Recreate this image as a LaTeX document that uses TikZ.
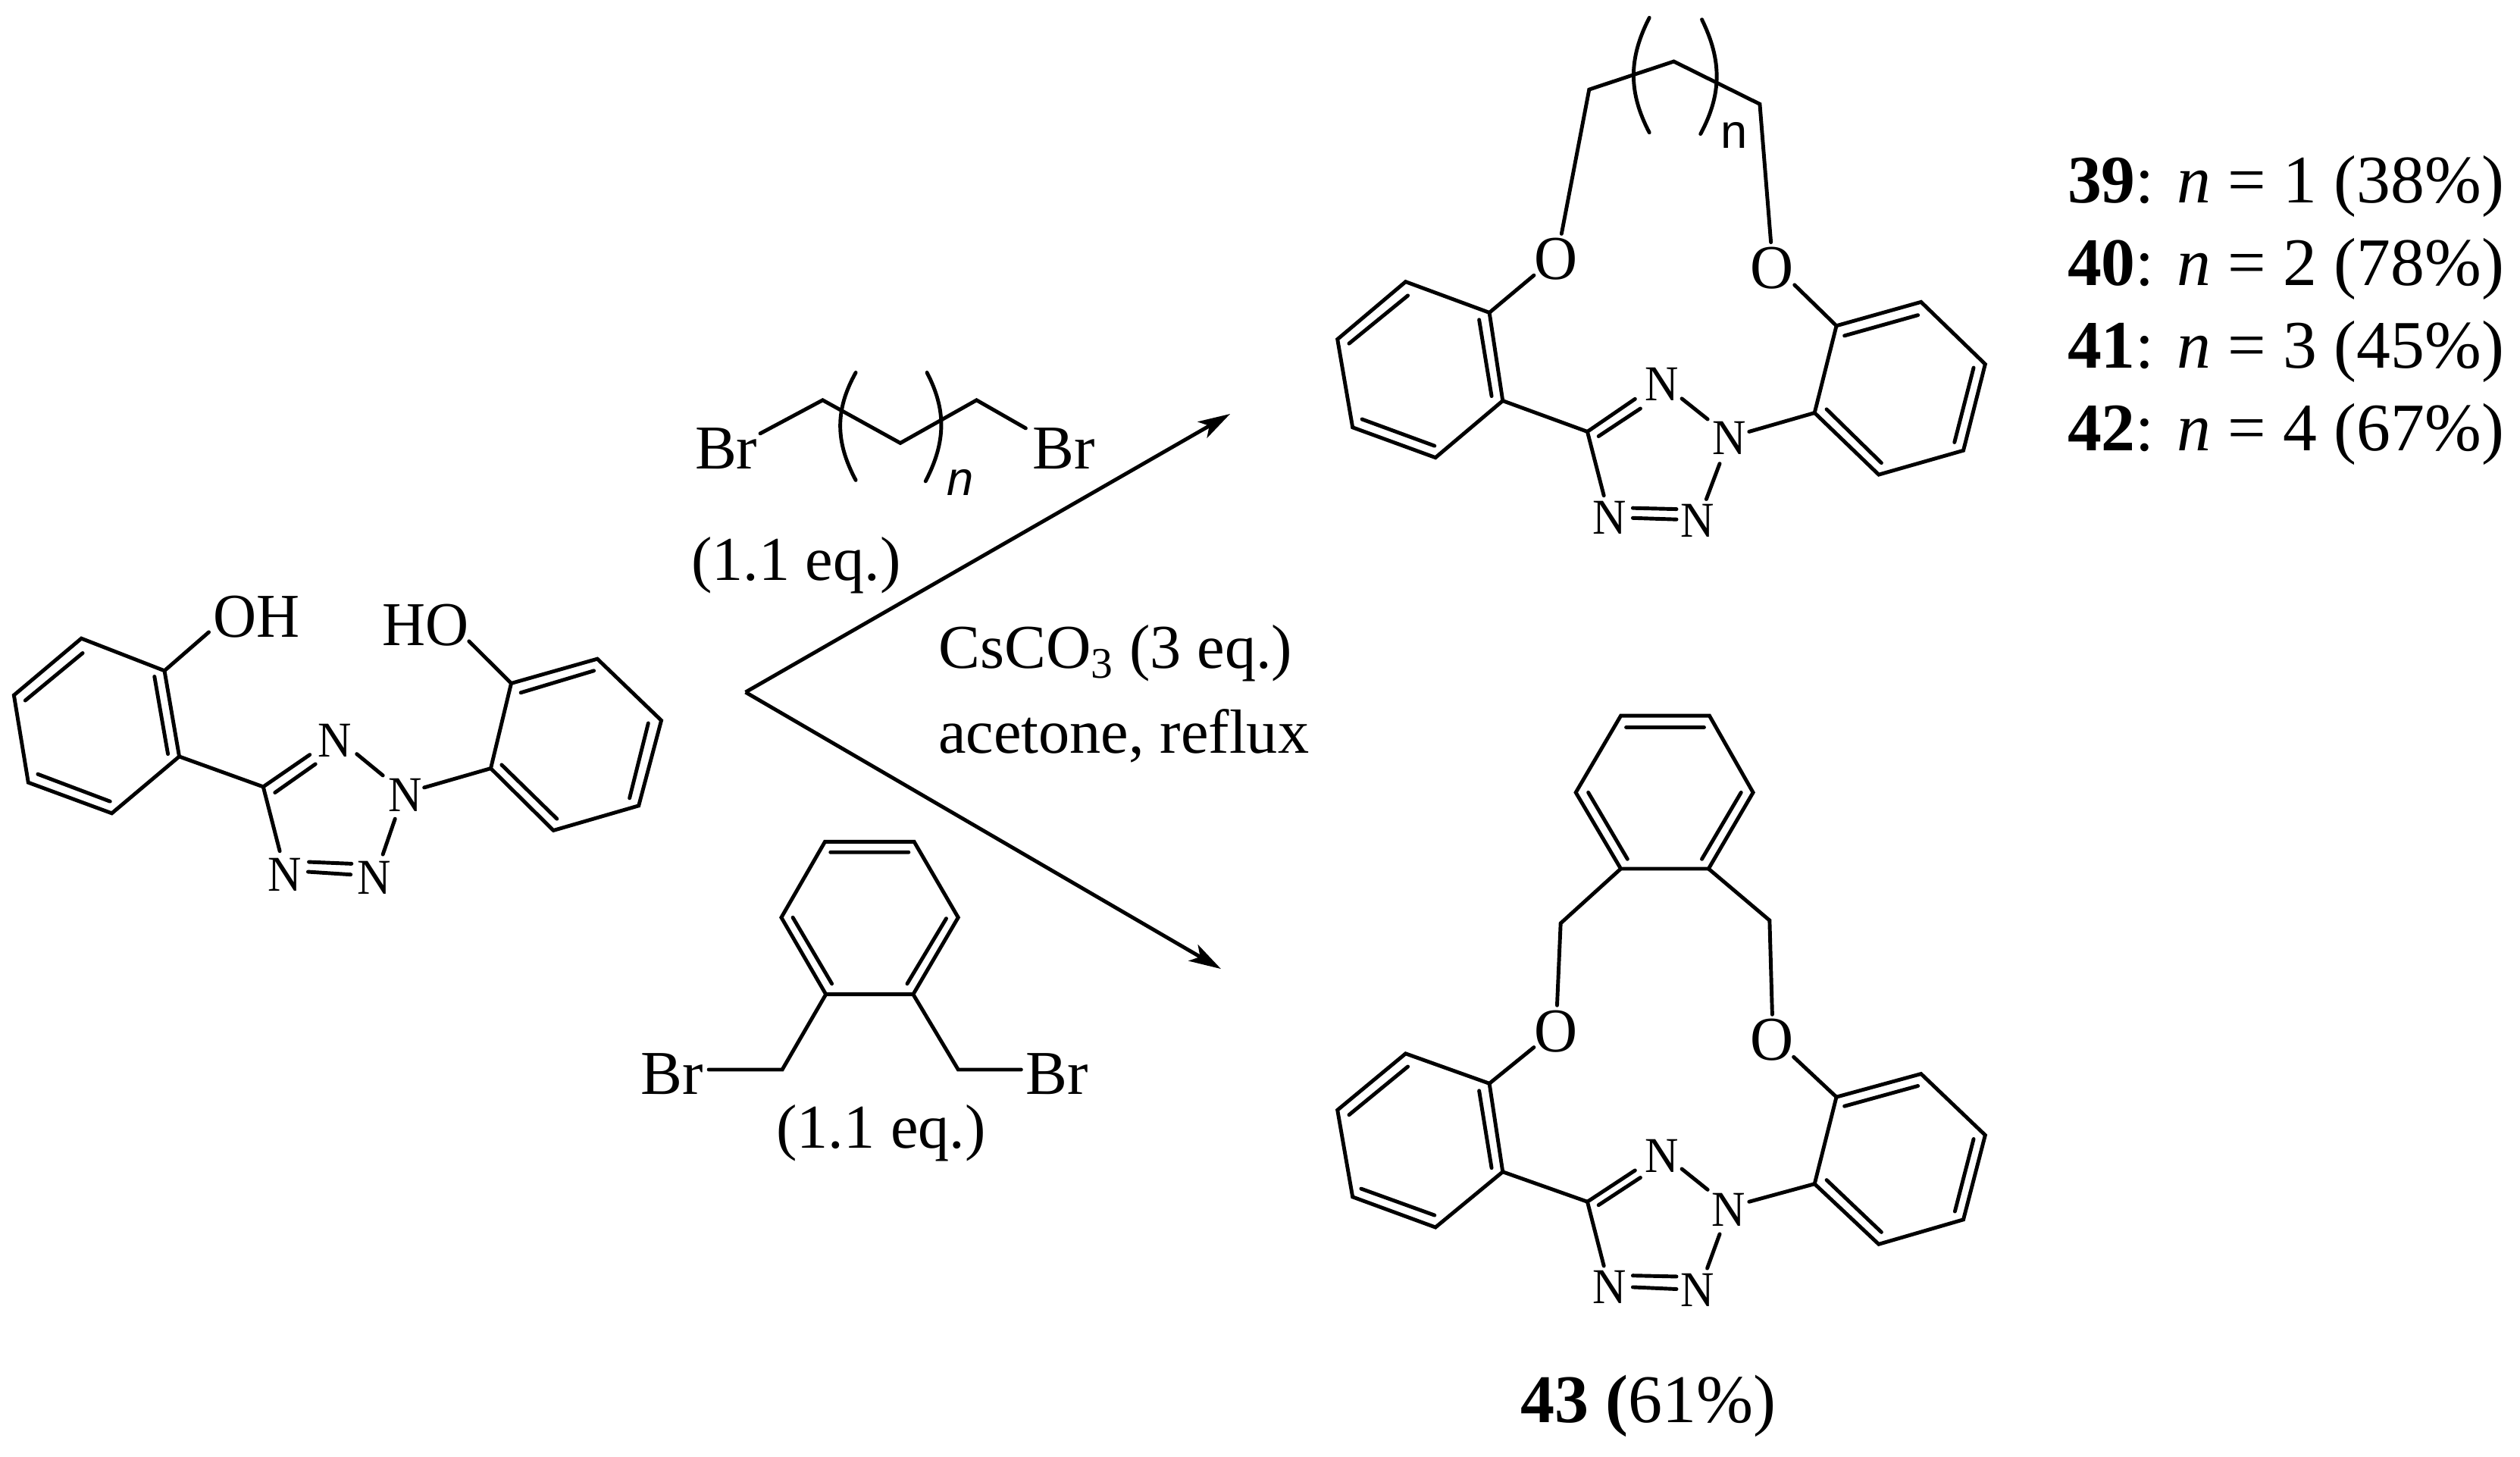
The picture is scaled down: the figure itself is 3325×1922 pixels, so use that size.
\documentclass[tikz,border=0pt]{standalone}
\usepackage{fontspec}
\setmainfont{Liberation Serif}
\newfontfamily\sansn{Liberation Sans}
\usetikzlibrary{arrows.meta}
\newcommand{\txtlarge}[1]{\fontsize{23.4}{23.4}\selectfont #1}
\newcommand{\molN}[1]{\scalebox{0.93}[1]{\fontsize{18.8}{18.8}\selectfont #1}}
\newcommand{\molO}[1]{\scalebox{0.96}[1]{\fontsize{23.4}{23.4}\selectfont #1}}
\newcommand{\listfont}{\fontsize{25.5}{25.5}\selectfont}
\tikzset{
  bond/.style={line width=1.4pt,line cap=round,line join=miter},
  atom/.style={inner sep=0pt,outer sep=0pt,text=black},
  rxnarrow/.style={line width=1.4pt,-{Stealth[length=12pt,width=7pt,inset=3pt]}}
}
\begin{document}
\begin{tikzpicture}[x=0.01cm,y=-0.01cm]
\useasboundingbox (0,0) rectangle (3325,1922);

% --- starting material
\begin{scope}[shift={(0,760)},x=0.00574cm,y=-0.00333cm]
\node[atom] (oh) at (590,162) {\molO{OH}};
\node[atom] (ho) at (978,195) {\molO{HO}};
\node[atom] (n1) at (770,652) {\molN{N}};
\node[atom] (n2) at (932,868) {\molN{N}};
\node[atom] (n3) at (860,1195) {\molN{N}};
\node[atom] (n4) at (655,1182) {\molN{N}};
\draw[bond] (378,375)--(187,247)--(32,472)--(65,818)--(257,940)--(412,715)--cycle;
\draw[bond] (355,398)--(386,705) (190,305)--(58,493) (87,785)--(253,893);
\draw[bond] (378,375)--(480,222);
\draw[bond] (1078,258)--(1175,425);
\draw[bond] (1175,425)--(1373,328)--(1520,572)--(1468,910)--(1272,1008)--(1128,762)--cycle;
\draw[bond] (1197,462)--(1365,375) (1490,583)--(1447,880) (1280,962)--(1153,748);
\draw[bond] (1128,762)--(975,838);
\draw[bond] (412,715)--(605,835);
\draw[bond] (643,1090)--(605,835)--(712,708) (632,858)--(725,745);
\draw[bond] (820,705)--(880,790) (908,962)--(880,1103);
\draw[bond] (710,1133)--(808,1140) (708,1172)--(806,1183);
\end{scope}

% --- reagent 1
\begin{scope}[shift={(820,460)},x=0.00606cm,y=-0.00699cm]
\node[atom] (br1) at (228,188) {\txtlarge{Br}};
\node[atom] (br2) at (963,188) {\txtlarge{Br}};
\node[atom] (eq1) at (380,408) {\txtlarge{(1.1 eq.)}};
\node[atom] (nit) at (737,252) {\fontsize{18}{18}\selectfont\sansn\itshape n};
\draw[bond] (302,160)--(438,97)--(607,178)--(773,97)--(880,150);
\draw[bond] (510,45) .. controls (465,115) and (465,175) .. (510,248);
\draw[bond] (665,45) .. controls (707,115) and (707,175) .. (662,250);
% arrows
\coordinate (apex) at (270,648);
\coordinate (tipA) at (1325,123);
\coordinate (tipB) at (1305,1170);
\draw[rxnarrow] (apex)--(tipA);
\draw[rxnarrow] (apex)--(tipB);
\node[atom,anchor=base west] (cs) at (690,603) {\txtlarge{CsCO\textsubscript{3} (3 eq.)}};
\node[atom,anchor=base west] (ac) at (690,763) {\txtlarge{acetone, reflux}};
% reagent 2
\node[atom] (br3) at (110,1368) {\txtlarge{Br}};
\node[atom] (br4) at (948,1368) {\txtlarge{Br}};
\node[atom] (eq2) at (565,1480) {\txtlarge{(1.1 eq.)}};
\draw[bond] (443,930)--(637,930)--(733,1073)--(635,1218)--(445,1218)--(348,1073)--cycle;
\draw[bond] (455,950)--(625,950) (707,1075)--(622,1198) (458,1198)--(373,1073);
\draw[bond] (445,1218)--(350,1360)--(190,1360);
\draw[bond] (635,1218)--(733,1360)--(870,1360);
\end{scope}

% --- product 39-42
\begin{scope}[shift={(1740,0)},x=0.00587cm,y=-0.00469cm]
\node[atom] (o1) at (533,730) {\molO{O}};
\node[atom] (o2) at (1018,755) {\molO{O}};
\node[atom] (n1) at (770,1082) {\molN{N}};
\node[atom] (n2) at (922,1232) {\molN{N}};
\node[atom] (n3) at (850,1465) {\molN{N}};
\node[atom] (n4) at (652,1457) {\molN{N}};
\node[atom] (nn) at (932,380) {\fontsize{18}{18}\selectfont\sansn n};
\draw[bond] (545,658)--(607,252)--(797,173)--(990,293)--(1015,682);
\draw[bond] (742,50) .. controls (695,165) and (695,260) .. (742,373);
\draw[bond] (860,55) .. controls (905,170) and (905,265) .. (857,377);
\draw[bond] (383,880)--(195,793)--(42,955)--(76,1203)--(262,1288)--(413,1128)--cycle;
\draw[bond] (360,900)--(388,1115) (200,832)--(68,967) (97,1180)--(260,1255);
\draw[bond] (383,880)--(483,775) (1068,802)--(1162,917);
\draw[bond] (1162,917)--(1352,850)--(1496,1025)--(1447,1268)--(1257,1336)--(1113,1162)--cycle;
\draw[bond] (1180,945)--(1345,887) (1470,1035)--(1427,1245) (1263,1303)--(1140,1152);
\draw[bond] (1113,1162)--(966,1215);
\draw[bond] (413,1128)--(603,1215);
\draw[bond] (640,1395)--(603,1215)--(710,1123) (628,1228)--(722,1150);
\draw[bond] (815,1122)--(873,1180) (900,1305)--(870,1405);
\draw[bond] (705,1430)--(803,1433) (705,1458)--(803,1462);
\end{scope}

% --- product 43
\begin{scope}[shift={(1740,920)},x=0.00587cm,y=-0.00637cm]
\node[atom] (o1) at (533,692) {\molO{O}};
\node[atom] (o2) at (1018,710) {\molO{O}};
\node[atom] (n1) at (770,950) {\molN{N}};
\node[atom] (n2) at (920,1062) {\molN{N}};
\node[atom] (n3) at (850,1228) {\molN{N}};
\node[atom] (n4) at (652,1222) {\molN{N}};
\node[atom] (lab) at (740,1468) {\fontsize{25.6}{25.6}\selectfont\textbf{43 (}61\%)};
\draw[bond] (678,38)--(877,38)--(975,197)--(875,355)--(678,355)--(577,197)--cycle;
\draw[bond] (690,62)--(865,62) (948,197)--(860,335) (693,335)--(605,197);
\draw[bond] (678,355)--(543,468)--(535,638);
\draw[bond] (875,355)--(1012,462)--(1018,657);
\draw[bond] (383,800)--(195,738)--(42,855)--(76,1035)--(262,1098)--(413,983)--cycle;
\draw[bond] (360,815)--(388,975) (200,765)--(68,865) (95,1018)--(260,1073);
\draw[bond] (483,725)--(383,800) (1066,745)--(1162,828);
\draw[bond] (1162,828)--(1352,780)--(1496,907)--(1447,1082)--(1257,1133)--(1113,1008)--cycle;
\draw[bond] (1180,847)--(1345,805) (1470,915)--(1428,1065) (1263,1108)--(1140,1000);
\draw[bond] (1113,1008)--(966,1045);
\draw[bond] (413,983)--(603,1045);
\draw[bond] (640,1178)--(603,1045)--(710,980) (628,1052)--(722,995);
\draw[bond] (815,977)--(873,1020) (900,1112)--(872,1183);
\draw[bond] (705,1198)--(803,1200) (705,1222)--(803,1226);
\end{scope}

% --- yield list
\node[atom,anchor=base west] (l1) at (2728,268) {\listfont\textbf{39}: \textit{n} = 1 (38\%)};
\node[atom,anchor=base west] (l2) at (2728,377) {\listfont\textbf{40}: \textit{n} = 2 (78\%)};
\node[atom,anchor=base west] (l3) at (2728,486) {\listfont\textbf{41}: \textit{n} = 3 (45\%)};
\node[atom,anchor=base west] (l4) at (2728,595) {\listfont\textbf{42}: \textit{n} = 4 (67\%)};
\end{tikzpicture}
\end{document}
